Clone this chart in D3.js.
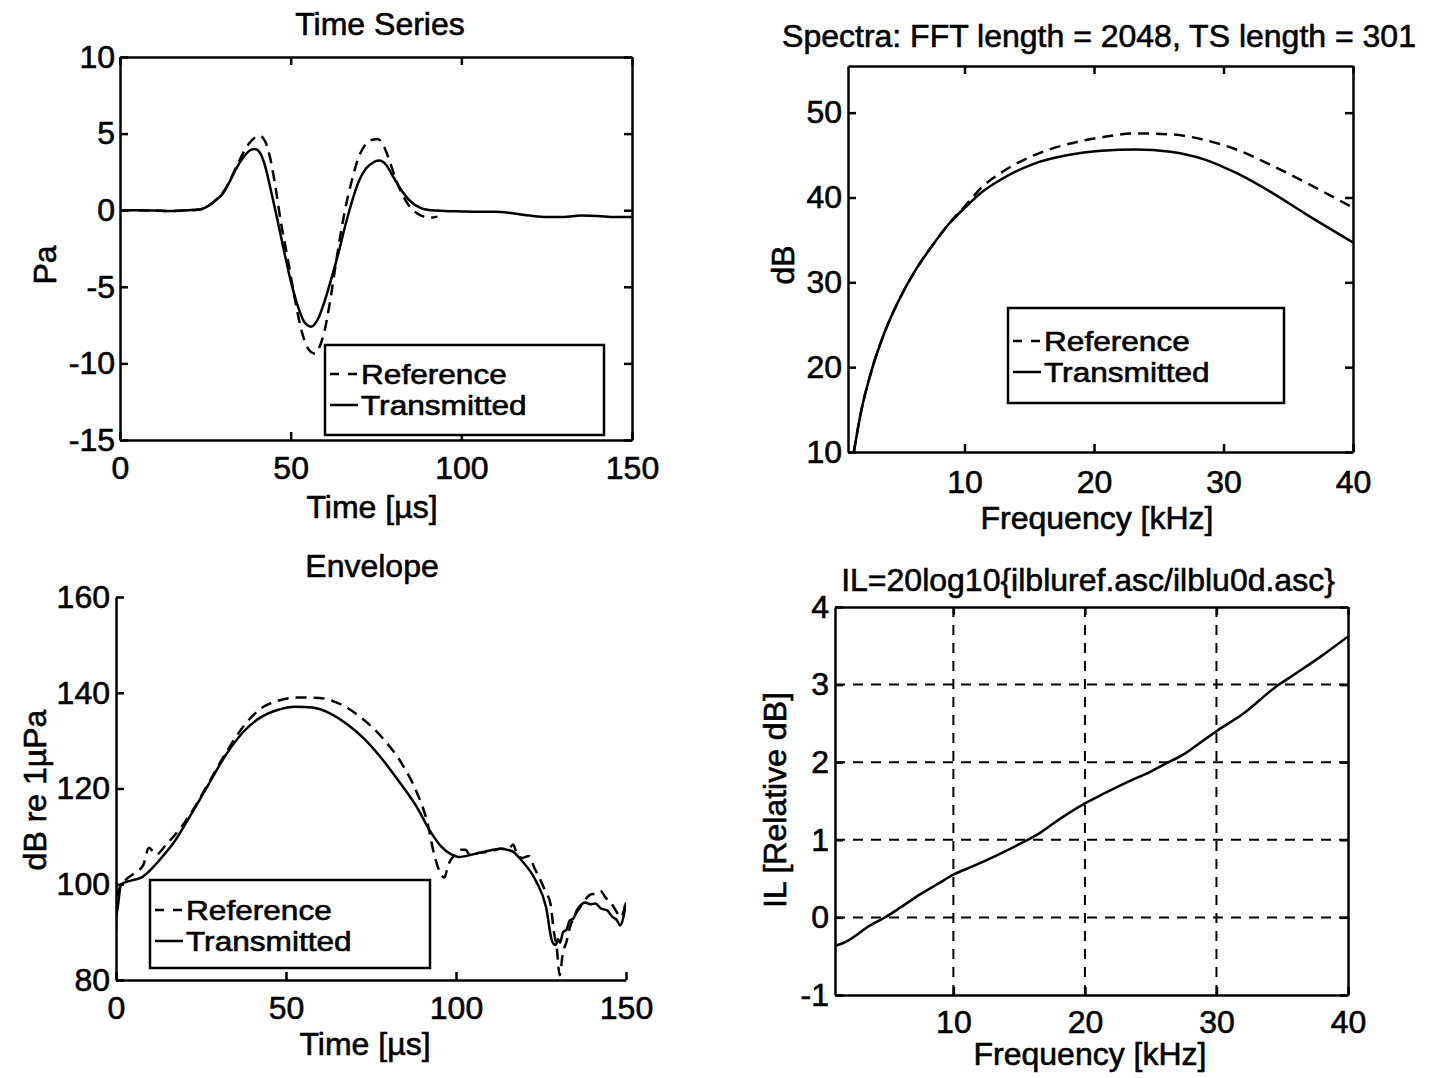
<!DOCTYPE html>
<html>
<head>
<meta charset="utf-8">
<script src="https://cdn.jsdelivr.net/npm/d3@7"></script>
<style>
  html, body { margin: 0; padding: 0; background: #fff; }
  svg text { font-family: "Liberation Sans", Arial, Helvetica, sans-serif; fill: #000; stroke: #000; stroke-width: 0.6px; }
</style>
</head>
<body>
<svg id="fig" width="1445" height="1078"></svg>
<script>
// ---------- Time series (Pa vs µs) ----------
const tsTransTime = [0, 5, 10, 15, 20, 22, 24, 26, 28, 30, 32, 34, 36, 38, 39.5, 41, 42.5, 44, 46, 48, 50, 52, 54, 56, 58, 60, 62, 64, 66, 68, 70, 72, 74, 76, 78, 80, 82, 85, 88, 91, 95, 100, 105, 110, 115, 120, 125, 130, 135, 140, 145, 150];
const tsTransPa   = [0, 0, -0.02, -0.05, 0, 0.02, 0.08, 0.3, 0.65, 1.05, 1.8, 2.7, 3.4, 3.9, 4.0, 3.75, 2.9, 1.5, -0.5, -2.6, -4.6, -6.2, -7.3, -7.6, -7.1, -5.9, -4.4, -2.8, -1.0, 0.6, 1.9, 2.7, 3.1, 3.25, 2.95, 2.2, 1.45, 0.6, 0.15, 0, -0.05, -0.08, -0.1, -0.1, -0.2, -0.35, -0.45, -0.45, -0.35, -0.38, -0.45, -0.45];
const tsRefTime = [0, 5, 10, 15, 20, 22, 24, 26, 28, 30, 32, 34, 36, 38, 40, 41, 42.5, 44, 45.5, 47, 49, 51, 53, 55, 57, 58.5, 60, 61.5, 63.5, 66, 68, 70, 72, 74, 75.5, 77, 79, 81, 83, 85, 87, 89, 91, 93];
const tsRefPa   = [0, 0, -0.02, -0.05, 0, 0.02, 0.08, 0.3, 0.65, 1.1, 1.85, 2.8, 3.7, 4.4, 4.8, 4.85, 4.5, 3.4, 1.6, -0.6, -3.0, -5.5, -7.7, -9.0, -9.35, -8.9, -7.8, -6.0, -3.1, 0.1, 2.0, 3.5, 4.3, 4.6, 4.65, 4.3, 3.2, 1.9, 0.9, 0.2, -0.2, -0.42, -0.48, -0.42];
const tsXTicks = [0, 50, 100, 150];
const tsYTicks = [-15, -10, -5, 0, 5, 10];

// ---------- Spectra (dB vs kHz) ----------
const spTransFreq = [1.45, 2, 2.8, 3.85, 4.9, 6.2, 7.5, 8.8, 10.1, 11.4, 12.8, 15.4, 18, 20.6, 23.2, 25.9, 28.5, 31.1, 33.7, 36.3, 40];
const spTransDb   = [10, 14.7, 19.5, 24.2, 27.8, 31.4, 34.3, 36.9, 38.9, 40.7, 42.1, 44.0, 45.0, 45.5, 45.65, 45.4, 44.5, 42.8, 40.6, 38.1, 34.7];
const spRefFreq = [1.45, 2, 2.8, 3.85, 4.9, 6.2, 7.5, 8.8, 10.1, 11.4, 12.8, 15.4, 18, 20.6, 23.2, 25.9, 28.5, 31.1, 33.7, 36.3, 40];
const spRefDb   = [10, 14.7, 19.5, 24.2, 27.8, 31.4, 34.3, 36.9, 39.1, 41.3, 42.9, 45.0, 46.3, 47.1, 47.55, 47.45, 46.8, 45.6, 43.8, 41.8, 38.8];
const spXTicks = [10, 20, 30, 40];
const spYTicks = [10, 20, 30, 40, 50];

// ---------- Envelope (dB re 1µPa vs µs) ----------
const envTransTime = [0, 0.5, 1.5, 4.6, 7.7, 10.7, 13.8, 16.9, 22, 27.1, 32.2, 37.3, 42.4, 47.5, 52.7, 57.8, 62.9, 68, 73.1, 78.2, 83.3, 88.4, 92.5, 95.6, 98.7, 100.7, 104.8, 108.9, 113, 116.5, 119.5, 123.5, 126.5, 128.3, 129.3, 130, 130.6, 131.5, 132.5, 133.5, 134.5, 135.5, 136.5, 138, 139.5, 141, 142.5, 144.5, 146, 147.3, 148.3, 149.2, 150];
const envTransDb   = [93, 95.2, 100, 100.8, 101.5, 103.4, 105.9, 108.6, 114.5, 120.7, 126.9, 131.7, 134.8, 136.4, 137.1, 136.9, 135.7, 133.4, 130.3, 126.2, 121.4, 116.2, 111, 107.9, 106.2, 105.7, 106.2, 106.9, 107.4, 106.9, 104.8, 100.7, 95.2, 88, 87.3, 88.5, 87.8, 90, 90.5, 92.5, 92.8, 94.5, 95.5, 96.2, 95.8, 96, 95, 94.5, 93.2, 92.5, 91.4, 93, 96.2];
const envRefTime = [0, 0.5, 2.6, 5.6, 8, 9.7, 11.8, 14.8, 18.9, 22, 27.1, 32.2, 37.3, 42.4, 47.5, 53.7, 59.8, 66, 72.1, 78.2, 84.4, 88.4, 91.5, 93.6, 95.1, 96.6, 97.6, 99.7, 101.5, 102.8, 104, 106.9, 110, 113, 115.5, 116.8, 118, 119.5, 121.5, 123, 124.5, 126.3, 127.8, 128.8, 129.6, 130.5, 131.4, 132.5, 133.5, 135, 136.5, 138, 139.8, 141.2, 142.5, 144, 145.5, 147, 148.5, 150];
const envRefDb   = [90, 98.3, 100.7, 102.4, 104, 107.6, 106.2, 108.3, 111.7, 114.8, 121, 127.3, 132.8, 136.6, 138.3, 139, 138.9, 137.6, 134.8, 130.7, 124.8, 119.3, 113.1, 106.2, 102.8, 101.4, 103.8, 106.2, 107.2, 107.2, 106.2, 106.6, 106.8, 107.4, 107.4, 108.3, 106.2, 105.5, 105.9, 103.5, 101.4, 98.5, 95.9, 90, 86.9, 81, 85.5, 88, 91, 93.5, 95.2, 96.8, 97.9, 98, 98.6, 97.2, 96.2, 94.5, 93.1, 96.6];
const envXTicks = [0, 50, 100, 150];
const envYTicks = [80, 100, 120, 140, 160];

// ---------- Insertion loss (relative dB vs kHz) ----------
const ilFreq = [1, 2, 2.7, 3.5, 4.8, 6, 7.5, 8.8, 10, 11.5, 13.3, 15.2, 16.5, 18.1, 20, 21.5, 23.3, 25, 26, 27.5, 29, 30, 32, 34.5, 36, 38, 40];
const ilDb   = [-0.37, -0.3, -0.22, -0.12, 0, 0.13, 0.3, 0.43, 0.55, 0.66, 0.8, 0.96, 1.08, 1.27, 1.47, 1.6, 1.75, 1.88, 1.97, 2.1, 2.28, 2.4, 2.62, 2.97, 3.14, 3.37, 3.62];
const ilXTicks = [10, 20, 30, 40];
const ilYTicks = [-1, 0, 1, 2, 3, 4];

const legendLabels = ["Reference", "Transmitted"];

const svg = d3.select("#fig");
svg.append("rect").attr("width", 1445).attr("height", 1078).attr("fill", "#fff");

const FONT = 32;
const LEGEND_FONT = 27;
const LW = 2.5;
const DASH = "11,7";
const zip = (a, b) => a.map((v, i) => [v, b[i]]);
let clipId = 0;

function styleAxis(sel) {
  sel.attr("font-size", FONT).attr("font-family", null);
  sel.select(".domain").attr("stroke-width", LW);
  sel.selectAll(".tick line").attr("stroke-width", LW);
}

function drawPanel(p) {
  const x = d3.scaleLinear().domain(p.xDomain).range([p.left, p.right]);
  const y = d3.scaleLinear().domain(p.yDomain).range([p.bottom, p.top]);
  const g = svg.append("g");
  const fmt = d => String(d);

  // dashed grid
  if (p.grid) {
    g.append("g").selectAll("line").data(p.xTicks.filter(v => x(v) > p.left + 2 && x(v) < p.right - 2))
      .join("line").attr("x1", d => x(d)).attr("x2", d => x(d)).attr("y1", p.top).attr("y2", p.bottom)
      .attr("stroke", "#000").attr("stroke-width", 2).attr("stroke-dasharray", "10,8");
    g.append("g").selectAll("line").data(p.yTicks.filter(v => y(v) > p.top + 2 && y(v) < p.bottom - 2))
      .join("line").attr("y1", d => y(d)).attr("y2", d => y(d)).attr("x1", p.left).attr("x2", p.right)
      .attr("stroke", "#000").attr("stroke-width", 2).attr("stroke-dasharray", "10,8");
  }

  // curves, clipped to the axes area
  const cid = "clip" + (clipId++);
  svg.append("clipPath").attr("id", cid).append("rect")
    .attr("x", p.left).attr("y", p.top).attr("width", p.right - p.left).attr("height", p.bottom - p.top);
  const line = d3.line().x(d => x(d[0])).y(d => y(d[1])).curve(d3.curveMonotoneX);
  const cg = g.append("g").attr("clip-path", `url(#${cid})`);
  p.series.forEach(s => {
    cg.append("path").attr("d", line(s.data)).attr("fill", "none").attr("stroke", "#000")
      .attr("stroke-width", LW).attr("stroke-linejoin", "round")
      .attr("stroke-dasharray", s.dashed ? DASH : null);
  });

  // axes, ticks pointing inward
  g.append("g").attr("transform", `translate(0,${p.bottom})`)
    .call(d3.axisBottom(x).tickValues(p.xTicks).tickSizeInner(-8).tickSizeOuter(0).tickPadding(p.padX).tickFormat(fmt))
    .call(styleAxis);
  g.append("g").attr("transform", `translate(${p.left},0)`)
    .call(d3.axisLeft(y).tickValues(p.yTicks).tickSizeInner(-8).tickSizeOuter(0).tickPadding(p.padY).tickFormat(fmt))
    .call(styleAxis);
  if (p.box) {
    g.append("g").attr("transform", `translate(0,${p.top})`)
      .call(d3.axisTop(x).tickValues(p.xTicks).tickSizeInner(-8).tickSizeOuter(0).tickFormat(""))
      .call(styleAxis);
    g.append("g").attr("transform", `translate(${p.right},0)`)
      .call(d3.axisRight(y).tickValues(p.yTicks).tickSizeInner(-8).tickSizeOuter(0).tickFormat(""))
      .call(styleAxis);
  }

  // title and axis labels
  g.append("text").attr("x", p.title[1]).attr("y", p.title[2]).attr("dy", "0.35em")
    .attr("text-anchor", "middle").attr("font-size", FONT).text(p.title[0]);
  g.append("text").attr("x", p.xLabel[1]).attr("y", p.xLabel[2]).attr("dy", "0.35em")
    .attr("text-anchor", "middle").attr("font-size", FONT).text(p.xLabel[0]);
  g.append("text").attr("transform", `translate(${p.yLabel[1]},${p.yLabel[2]}) rotate(-90)`).attr("dy", "0.35em")
    .attr("text-anchor", "middle").attr("font-size", FONT).text(p.yLabel[0]);

  // legend
  if (p.legend) {
    const L = p.legend;
    g.append("rect").attr("x", L.x).attr("y", L.y).attr("width", L.w).attr("height", L.h)
      .attr("fill", "#fff").attr("stroke", "#000").attr("stroke-width", LW);
    legendLabels.forEach((lab, i) => {
      const cy = L.y + L.row0 + i * 31;
      g.append("line").attr("x1", L.x + 5).attr("x2", L.x + 33).attr("y1", cy).attr("y2", cy)
        .attr("stroke", "#000").attr("stroke-width", LW)
        .attr("stroke-dasharray", i === 0 ? "9,9" : null);
      const t = g.append("text").attr("x", L.x + 36).attr("y", cy).attr("dy", "0.36em")
        .attr("font-size", LEGEND_FONT).text(lab);
      // widen the glyphs so the entries keep the full label width
      const w = t.node().getComputedTextLength();
      t.attr("textLength", w * 1.17).attr("lengthAdjust", "spacingAndGlyphs");
    });
  }
}

// Time series
drawPanel({
  left: 120, right: 632, top: 57, bottom: 440,
  xDomain: [0, 150], yDomain: [-15, 10], xTicks: tsXTicks, yTicks: tsYTicks,
  padX: 16, padY: 5, box: true, grid: false,
  series: [{ data: zip(tsRefTime, tsRefPa), dashed: true }, { data: zip(tsTransTime, tsTransPa), dashed: false }],
  title: ["Time Series", 380, 24], xLabel: ["Time [µs]", 372, 507], yLabel: ["Pa", 45, 265],
  legend: { x: 325, y: 345, w: 279, h: 90, row0: 29 }
});

// Spectra
drawPanel({
  left: 848, right: 1353, top: 66, bottom: 452,
  xDomain: [1, 40], yDomain: [10, 55.5], xTicks: spXTicks, yTicks: spYTicks,
  padX: 18, padY: 6, box: true, grid: false,
  series: [{ data: zip(spRefFreq, spRefDb), dashed: true }, { data: zip(spTransFreq, spTransDb), dashed: false }],
  title: ["Spectra: FFT length = 2048, TS length = 301", 1099, 36],
  xLabel: ["Frequency [kHz]", 1097, 518], yLabel: ["dB", 783, 265],
  legend: { x: 1008, y: 308, w: 276, h: 95, row0: 33 }
});

// Envelope (left and bottom axes only)
drawPanel({
  left: 116, right: 626, top: 597, bottom: 980,
  xDomain: [0, 150], yDomain: [80, 160], xTicks: envXTicks, yTicks: envYTicks,
  padX: 16, padY: 6, box: false, grid: false,
  series: [{ data: zip(envRefTime, envRefDb), dashed: true }, { data: zip(envTransTime, envTransDb), dashed: false }],
  title: ["Envelope", 372, 566], xLabel: ["Time [µs]", 365, 1044], yLabel: ["dB re 1µPa", 35, 790],
  legend: { x: 150, y: 880, w: 280, h: 88, row0: 30 }
});

// Insertion loss
drawPanel({
  left: 835, right: 1348, top: 607, bottom: 995,
  xDomain: [1, 40], yDomain: [-1, 4], xTicks: ilXTicks, yTicks: ilYTicks,
  padX: 15, padY: 6, box: true, grid: true,
  series: [{ data: zip(ilFreq, ilDb), dashed: false }],
  title: ["IL=20log10{ilbluref.asc/ilblu0d.asc}", 1088, 580],
  xLabel: ["Frequency [kHz]", 1090, 1054], yLabel: ["IL [Relative dB]", 775, 800],
  legend: null
});
</script>
</body>
</html>
